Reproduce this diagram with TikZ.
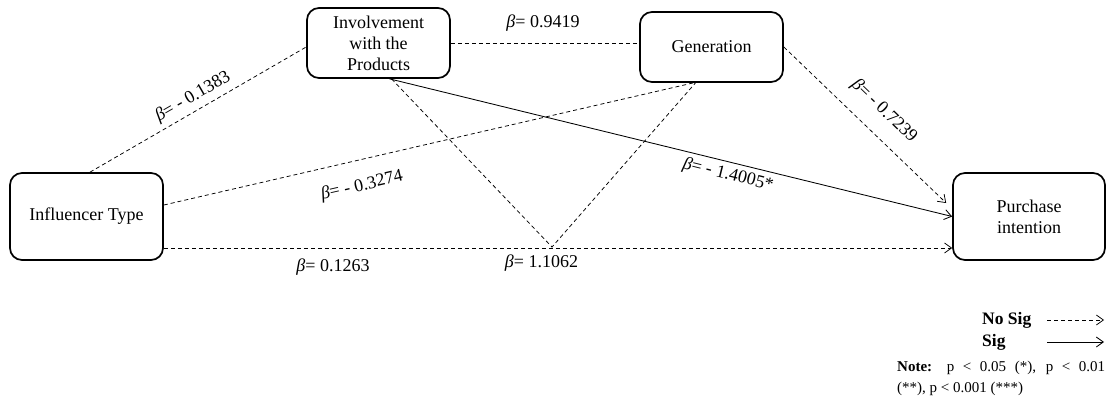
\documentclass[tikz,border=0pt]{standalone}
\usepackage{fontspec}
\setmainfont{Liberation Serif}
\usetikzlibrary{arrows.meta,calc}
\newcommand\bt{{\itshape β}}
\begin{document}
\begin{tikzpicture}[x=1pt,y=-1pt,
  box/.style={draw, line width=1.7pt, rounded corners=12pt, align=center, inner sep=0pt, font=\fontsize{18}{21}\selectfont},
  ns/.style={dash pattern=on 4pt off 3pt, line width=0.75pt},
  sg/.style={line width=0.85pt},
  tip/.style={-{Straight Barb[length=7pt,width=10pt]}},
  lab/.style={font=\fontsize{18}{20}\selectfont, inner sep=0pt},
  leg/.style={font=\bfseries\fontsize{17.5}{20}\selectfont, inner sep=0pt, anchor=west},
  note/.style={font=\fontsize{15}{18}\selectfont, inner sep=0pt, anchor=west}
]
\useasboundingbox (0,0) rectangle (1108,408);
% boxes
\node[box, minimum width=153pt, minimum height=87pt] (inf) at (86.5,216.5) {Influencer Type};
\node[box, minimum width=143pt, minimum height=70pt] (inv) at (378.5,43) {Involvement\\with the\\Products};
\node[box, minimum width=143pt, minimum height=70pt] (gen) at (711.5,47) {Generation};
\node[box, minimum width=152pt, minimum height=87pt] (pur) at (1029,216.5) {Purchase\\intention};
% connectors
\coordinate (apex) at (552,247);
\draw[ns] ([xshift=3.5pt]inf.north) -- ([yshift=-4pt]inv.west);
\draw[ns] ([yshift=11.5pt]inf.east) -- ([xshift=-18pt]gen.south);
\draw[ns,tip] ([yshift=-31.5pt]inf.east) -- ([yshift=-31.5pt]pur.west);
\draw[ns] (inv.east) -- (inv.east -| gen.west);
\draw[sg,tip] ([xshift=11pt]inv.south) -- (pur.west);
\draw[ns] ([xshift=13pt]inv.south) -- (apex) -- ([xshift=-16pt]gen.south);
\draw[ns,tip] (gen.east) -- ([xshift=-6pt,yshift=13.5pt]pur.west);
% labels
\node[lab, rotate=30] (l1) at (193,97) {\bt= - 0.1383};
\node[lab, rotate=13] (l2) at (362,186) {\bt= - 0.3274};
\node[lab] (l3) at (333,267) {\bt= 0.1263};
\node[lab] (l4) at (543,23) {\bt= 0.9419};
\node[lab] (l5) at (541.5,263) {\bt= 1.1062};
\node[lab, rotate=-14] (l6) at (728,175) {\bt= - 1.4005*};
\node[lab, rotate=-44] (l7) at (884,111) {\bt= - 0.7239};
% legend
\node[leg] (nsl) at (982,320) {No Sig};
\node[leg] (sgl) at (982,342) {Sig};
\coordinate (ns1) at (1047,320);
\coordinate (ns2) at (1104,320);
\coordinate (sg1) at (1047,342);
\coordinate (sg2) at (1104,342);
\draw[ns,tip] (ns1) -- (ns2);
\draw[sg,tip] (sg1) -- (sg2);
\node[note] (n1) at (897,368) {\makebox[208pt][s]{\textbf{Note:} p < 0.05 (*), p < 0.01}};
\node[note] (n2) at (897,389) {(**), p < 0.001 (***)};
\end{tikzpicture}
\end{document}
